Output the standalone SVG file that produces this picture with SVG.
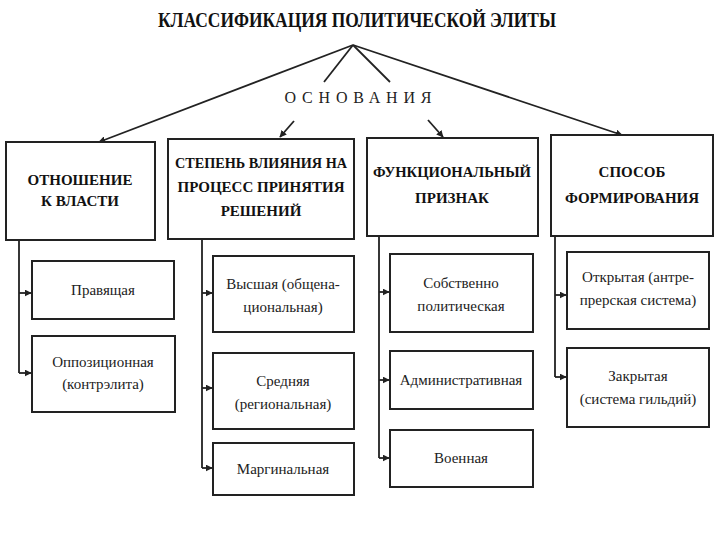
<svg xmlns="http://www.w3.org/2000/svg" width="720" height="540" viewBox="0 0 720 540">
<defs>
<style>
.b{fill:#fff;stroke:#222;stroke-width:2}
.l{stroke:#222;stroke-width:1.8;fill:none}
.h{font-family:'Liberation Serif','Times New Roman','DejaVu Serif Condensed',serif;font-weight:bold;font-size:15px;fill:#111;text-anchor:middle}
.t{font-family:'Liberation Serif','Times New Roman','DejaVu Serif',serif;font-size:15px;fill:#222;text-anchor:middle}
.ti{font-family:'Liberation Serif','Times New Roman','DejaVu Serif Condensed',serif;font-weight:bold;font-size:21px;fill:#111;text-anchor:middle}
.os{font-family:'Liberation Serif','Times New Roman','DejaVu Serif',serif;font-size:16px;fill:#222;text-anchor:middle}
</style>
<marker id="a" viewBox="0 0 10 10" refX="9" refY="5" markerWidth="7" markerHeight="7" orient="auto" markerUnits="userSpaceOnUse"><path d="M0,0L10,5L0,10z" fill="#222"/></marker>
</defs>
<rect width="720" height="540" fill="#fff"/>
<text class="ti" x="357" y="27" textLength="398" lengthAdjust="spacingAndGlyphs">КЛАССИФИКАЦИЯ ПОЛИТИЧЕСКОЙ ЭЛИТЫ</text>
<text class="os" x="358" y="103" textLength="147" lengthAdjust="spacing">ОСНОВАНИЯ</text>
<g id="connectors">
<line class="l" x1="353" y1="45" x2="99" y2="142" marker-end="url(#a)"/>
<line class="l" x1="353" y1="45" x2="622" y2="135" marker-end="url(#a)"/>
<line class="l" x1="353" y1="45" x2="324" y2="82"/>
<line class="l" x1="353" y1="45" x2="390" y2="82"/>
<line class="l" x1="294" y1="121" x2="280" y2="137" marker-end="url(#a)"/>
<line class="l" x1="428" y1="120" x2="443" y2="137" marker-end="url(#a)"/>
<path class="l" d="M19 240V373M202 239V468M379 236V458M555 236V377"/>
<line class="l" x1="19" y1="293" x2="31" y2="293" marker-end="url(#a)"/>
<line class="l" x1="19" y1="373" x2="31" y2="373" marker-end="url(#a)"/>
<line class="l" x1="202" y1="293" x2="212" y2="293" marker-end="url(#a)"/>
<line class="l" x1="202" y1="388" x2="212" y2="388" marker-end="url(#a)"/>
<line class="l" x1="202" y1="468" x2="212" y2="468" marker-end="url(#a)"/>
<line class="l" x1="379" y1="292" x2="389" y2="292" marker-end="url(#a)"/>
<line class="l" x1="379" y1="380" x2="389" y2="380" marker-end="url(#a)"/>
<line class="l" x1="379" y1="458" x2="389" y2="458" marker-end="url(#a)"/>
<line class="l" x1="555" y1="295" x2="566" y2="295" marker-end="url(#a)"/>
<line class="l" x1="555" y1="377" x2="566" y2="377" marker-end="url(#a)"/>
</g>
<g id="n1"><rect class="b" x="6" y="142" width="149" height="98"/><text class="h" x="80" y="185">ОТНОШЕНИЕ</text><text class="h" x="80" y="206">К ВЛАСТИ</text></g>
<g id="n2"><rect class="b" x="168" y="139" width="186" height="100"/><text class="h" x="261" y="168" textLength="172" lengthAdjust="spacingAndGlyphs">СТЕПЕНЬ ВЛИЯНИЯ НА</text><text class="h" x="261" y="192">ПРОЦЕСС ПРИНЯТИЯ</text><text class="h" x="261" y="216">РЕШЕНИЙ</text></g>
<g id="n3"><rect class="b" x="367" y="138" width="171" height="98"/><text class="h" x="452" y="177" textLength="158" lengthAdjust="spacingAndGlyphs">ФУНКЦИОНАЛЬНЫЙ</text><text class="h" x="452" y="203">ПРИЗНАК</text></g>
<g id="n4"><rect class="b" x="551" y="135" width="162" height="101"/><text class="h" x="632" y="177">СПОСОБ</text><text class="h" x="632" y="203">ФОРМИРОВАНИЯ</text></g>
<g id="c11"><rect class="b" x="32" y="261" width="142" height="58"/><text class="t" x="103" y="295">Правящая</text></g>
<g id="c12"><rect class="b" x="32" y="336" width="143" height="76"/><text class="t" x="103" y="367">Оппозиционная</text><text class="t" x="103" y="389">(контрэлита)</text></g>
<g id="c21"><rect class="b" x="213" y="256" width="141" height="76"/><text class="t" x="283" y="289">Высшая (общена-</text><text class="t" x="283" y="312">циональная)</text></g>
<g id="c22"><rect class="b" x="213" y="353" width="141" height="76"/><text class="t" x="283" y="386">Средняя</text><text class="t" x="283" y="409">(региональная)</text></g>
<g id="c23"><rect class="b" x="213" y="443" width="141" height="52"/><text class="t" x="283" y="474">Маргинальная</text></g>
<g id="c31"><rect class="b" x="390" y="254" width="143" height="78"/><text class="t" x="461" y="288">Собственно</text><text class="t" x="461" y="311">политическая</text></g>
<g id="c32"><rect class="b" x="390" y="351" width="143" height="58"/><text class="t" x="461" y="385">Административная</text></g>
<g id="c33"><rect class="b" x="390" y="430" width="143" height="57"/><text class="t" x="461" y="463">Военная</text></g>
<g id="c41"><rect class="b" x="567" y="252" width="142" height="77"/><text class="t" x="638" y="282">Открытая (антре-</text><text class="t" x="638" y="305">прерская система)</text></g>
<g id="c42"><rect class="b" x="567" y="348" width="142" height="79"/><text class="t" x="638" y="381">Закрытая</text><text class="t" x="638" y="404">(система гильдий)</text></g>
</svg>
